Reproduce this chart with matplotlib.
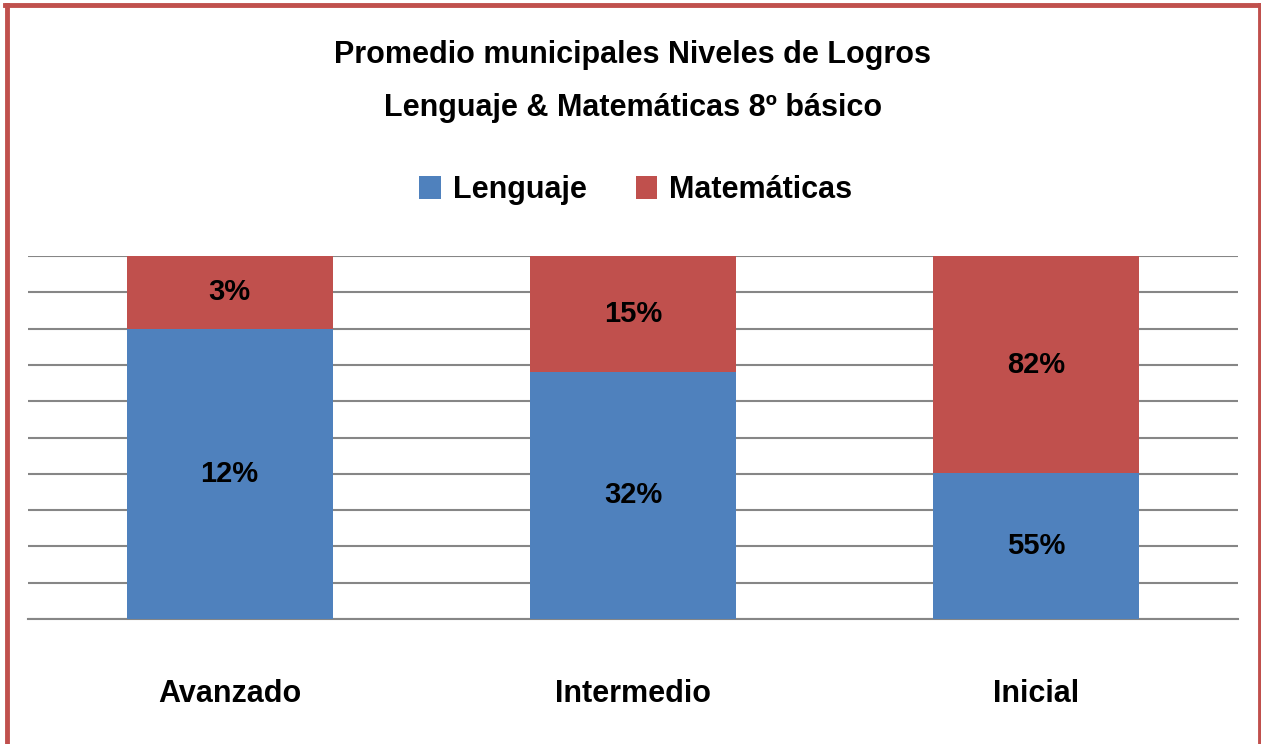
import matplotlib
matplotlib.use('Agg')
import matplotlib.pyplot as plt
import numpy as np
from matplotlib.lines import Line2D

# Datos
categorias = ['Avanzado', 'Intermedio', 'Inicial']
lenguaje = [12, 32, 55]
matematicas = [3, 15, 82]

azul = '#4F81BD'
rojo = '#C0504D'

plt.rcParams['font.family'] = ['Liberation Sans Narrow', 'Liberation Sans', 'DejaVu Sans']
plt.rcParams['font.weight'] = 'bold'

W, H = 1261, 744
fig = plt.figure(figsize=(W / 100, H / 100), dpi=100)
ax = fig.add_axes([28 / W, 1 - 619 / H, 1210 / W, 363 / H])

len_arr = np.array(lenguaje, dtype=float)
mat_arr = np.array(matematicas, dtype=float)
total = len_arr + mat_arr
len_pct = len_arr / total * 100
mat_pct = mat_arr / total * 100

x = np.arange(len(categorias))
b1 = ax.bar(x, len_pct, width=0.51, color=azul, label='Lenguaje', zorder=3)
b2 = ax.bar(x, mat_pct, width=0.51, bottom=len_pct, color=rojo, label='Matemáticas', zorder=3)

for i in range(len(categorias)):
    ax.text(x[i], len_pct[i] / 2, f'{lenguaje[i]}%', ha='center', va='center',
            fontsize=21, fontweight='bold', color='black', zorder=4)
    ax.text(x[i], len_pct[i] + mat_pct[i] / 2, f'{matematicas[i]}%', ha='center', va='center',
            fontsize=21, fontweight='bold', color='black', zorder=4)

ax.set_xlim(-0.5, len(categorias) - 0.5)
ax.set_ylim(0, 100)
ax.set_yticks(np.arange(0, 101, 10))
ax.yaxis.grid(True, color='#868686', linewidth=1.5, zorder=0)
ax.tick_params(axis='y', left=False, labelleft=False)
ax.tick_params(axis='x', bottom=False, labelsize=22, pad=40)
ax.set_xticks(x)
ax.set_xticklabels(categorias, fontweight='bold')
for s in ['top', 'right', 'left']:
    ax.spines[s].set_visible(False)
ax.spines['bottom'].set_color('#868686')
ax.spines['bottom'].set_linewidth(1.5)

fig.text(633 / W, 1 - 55 / H, 'Promedio municipales Niveles de Logros', ha='center', va='center',
         fontsize=22, fontweight='bold')
fig.text(633 / W, 1 - 108 / H, 'Lenguaje & Matemáticas 8º básico', ha='center', va='center',
         fontsize=22, fontweight='bold')

fig.legend(handles=[b1, b2], loc='center', bbox_to_anchor=(636 / W, 1 - 190 / H), ncol=2,
           frameon=False, fontsize=22, handlelength=0.7, handleheight=0.8,
           handletextpad=0.4, columnspacing=1.6)

# Marco rojo
lw = 3.5
fig.add_artist(Line2D([6.5 / W, 6.5 / W], [-0.1, 1 - 5 / H], transform=fig.transFigure, color=rojo, linewidth=lw))
fig.add_artist(Line2D([5 / W, 1259.5 / W], [1 - 5 / H, 1 - 5 / H], transform=fig.transFigure, color=rojo, linewidth=lw))
fig.add_artist(Line2D([1259.5 / W, 1259.5 / W], [-0.1, 1 - 5 / H], transform=fig.transFigure, color=rojo, linewidth=lw))

fig.savefig('out.png', dpi=100)
